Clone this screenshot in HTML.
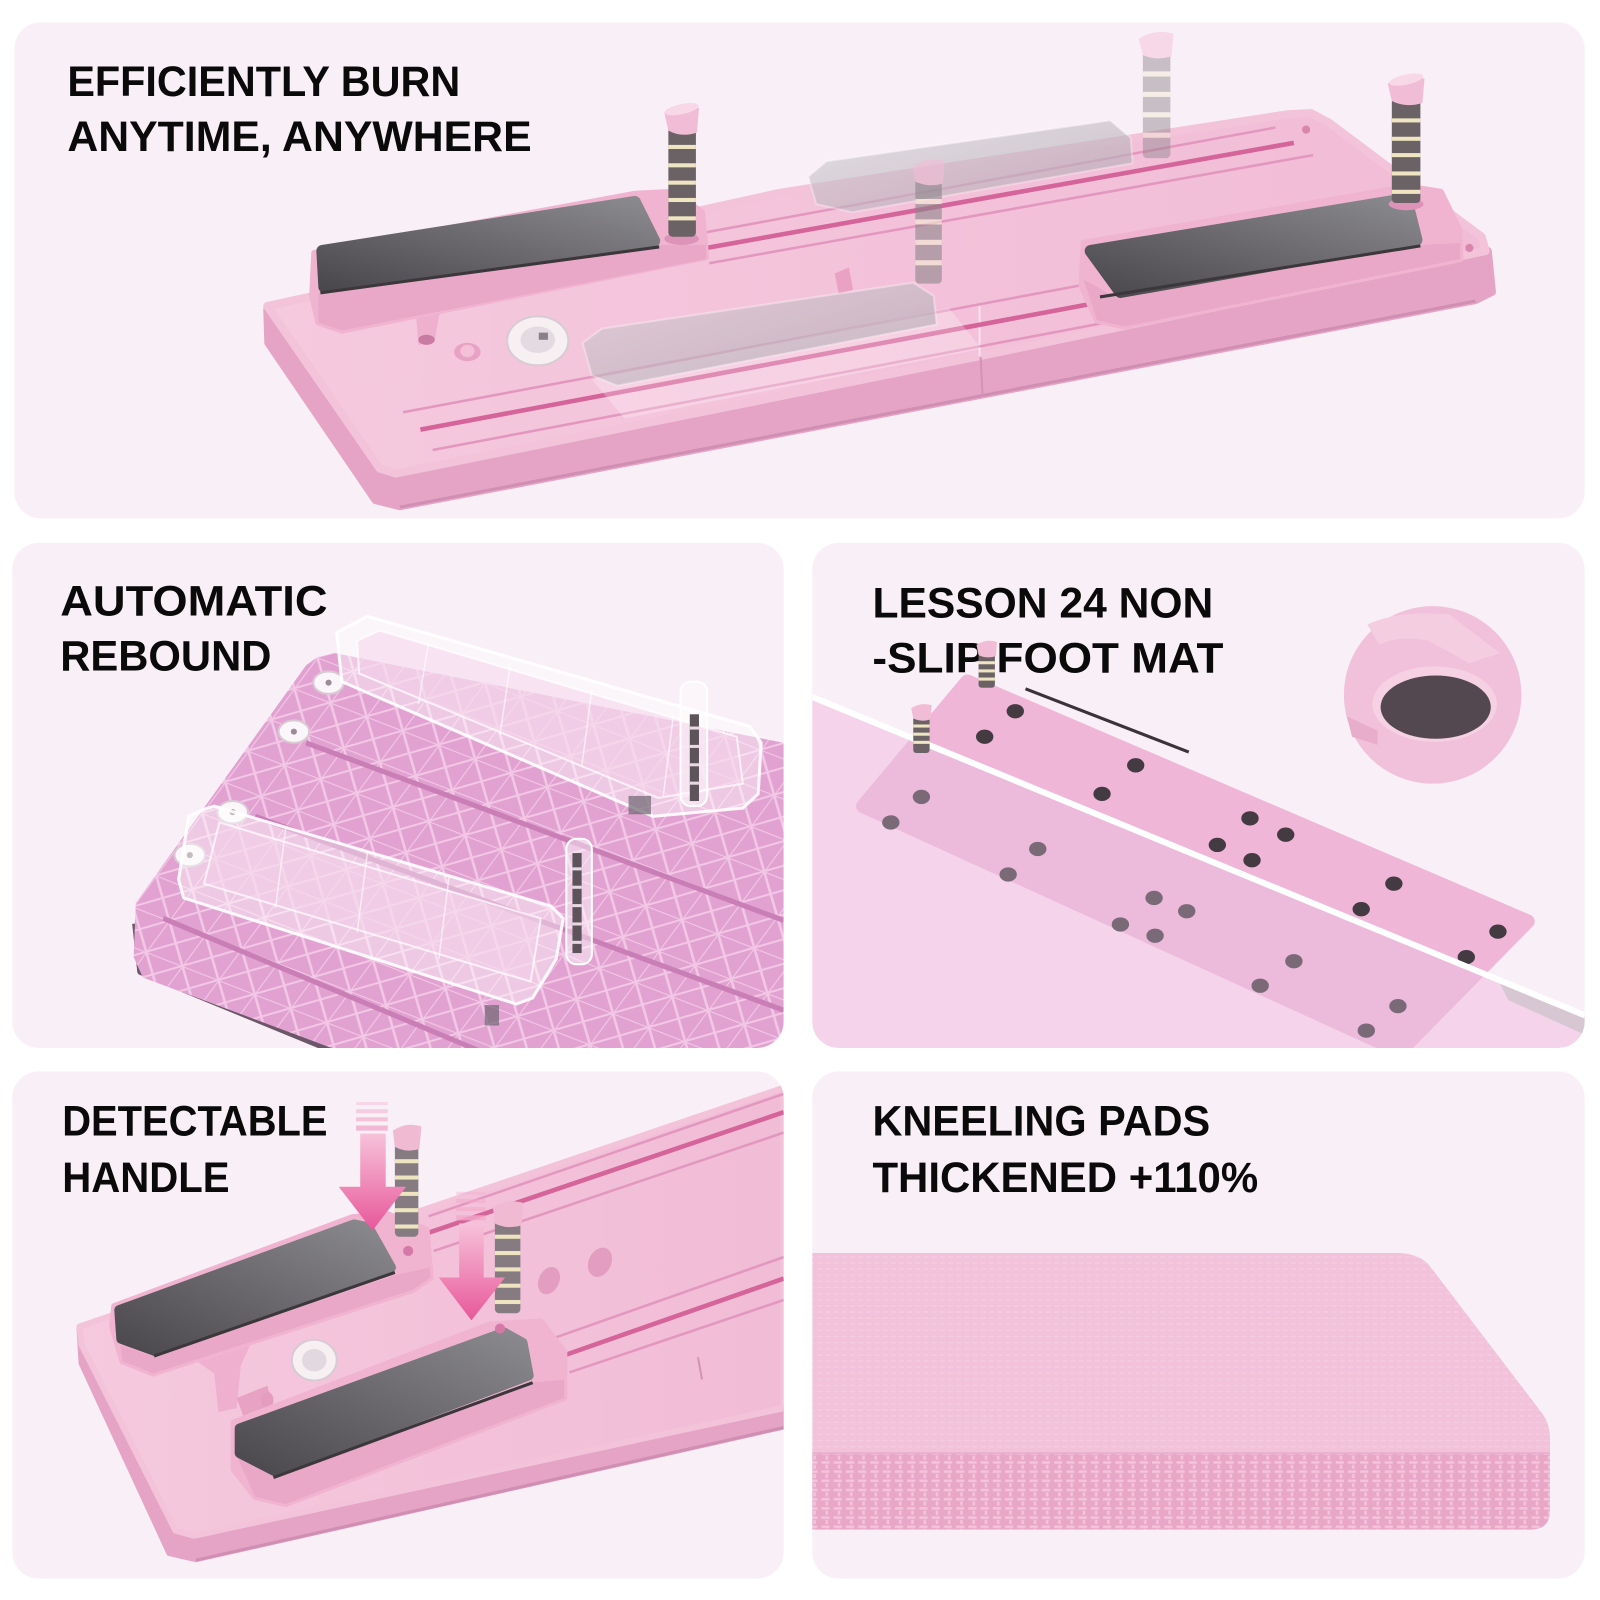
<!DOCTYPE html>
<html><head><meta charset="utf-8"><title>Foot mat features</title>
<style>
html,body{margin:0;padding:0;background:#fff;width:1600px;height:1600px;overflow:hidden}
svg{display:block}
.t{font-family:"Liberation Sans",Arial,sans-serif;font-weight:700;font-size:42px;fill:#0a0a0a}
</style></head><body>
<svg width="1600" height="1600" viewBox="0 0 1600 1600" xmlns="http://www.w3.org/2000/svg">
<defs>
<clipPath id="c1"><rect x="14" y="22" width="1539" height="486" rx="26"/></clipPath>
<clipPath id="c2"><rect x="12" y="532" width="756" height="495" rx="26"/></clipPath>
<clipPath id="c3"><rect x="796" y="532" width="757" height="495" rx="26"/></clipPath>
<clipPath id="c4"><rect x="12" y="1050" width="756" height="497" rx="26"/></clipPath>
<clipPath id="c5"><rect x="796" y="1050" width="757" height="497" rx="26"/></clipPath>
<clipPath id="up"><polygon points="796,532 1553,532 1553,995 796,683"/></clipPath>
<clipPath id="lo"><polygon points="796,683 1553,995 1553,1030 796,1030"/></clipPath>
<clipPath id="gb"><polygon points="311,644 328,640 768,728 768,1027 325,1027 140,958 131,938 133,885 300,652"/></clipPath>
<linearGradient id="pd" x1="0" y1="1" x2="1" y2="0"><stop offset="0" stop-color="#4b484d"/><stop offset="1" stop-color="#8b8a8e"/></linearGradient>
<linearGradient id="bt" x1="0" y1="0" x2="1" y2="0"><stop offset="0" stop-color="#f5c9de"/><stop offset="1" stop-color="#f1bcd6"/></linearGradient>
<linearGradient id="ar" x1="0" y1="0" x2="0" y2="1"><stop offset="0" stop-color="#f7c2da"/><stop offset="1" stop-color="#e8579a"/></linearGradient>
<linearGradient id="gh" x1="0" y1="0" x2="1" y2="1"><stop offset="0" stop-color="#d6d0d6"/><stop offset="1" stop-color="#a9a4ab"/></linearGradient>
<pattern id="weave" width="12" height="9" patternUnits="userSpaceOnUse">
<rect width="12" height="9" fill="#e9a7c8"/>
<rect x="1" y="1" width="8" height="2.5" fill="#f4c3dc"/>
<rect x="5" y="4.5" width="2.5" height="4" fill="#f4c3dc"/>
</pattern>
<pattern id="fine" width="8" height="6" patternUnits="userSpaceOnUse">
<rect width="8" height="6" fill="#f2c2da"/>
<rect x="1" y="1" width="5" height="1.5" fill="#f5cbdf"/>
</pattern>
<pattern id="grid" width="38" height="38" patternUnits="userSpaceOnUse" patternTransform="matrix(0.932,0.363,-0.594,0.804,311,644)">
<rect width="38" height="38" fill="#e2a2d1"/>
<path d="M0,0 H38 M0,0 V38 M0,0 L38,38 M38,0 L0,38" stroke="#f2c8e6" stroke-width="2.2"/>
</pattern>
</defs>
<rect width="1600" height="1600" fill="#fff"/>
<g transform="scale(1.0204)">
<!-- panels -->
<rect x="14" y="22" width="1539" height="486" rx="26" fill="#f9eff7"/>
<rect x="12" y="532" width="756" height="495" rx="26" fill="#f9eff7"/>
<rect x="796" y="532" width="757" height="495" rx="26" fill="#f9eff7"/>
<rect x="12" y="1050" width="756" height="497" rx="26" fill="#f9eff7"/>
<rect x="796" y="1050" width="757" height="497" rx="26" fill="#f9eff7"/>

<!-- ===== TOP PANEL ===== -->
<g clip-path="url(#c1)">
<path d="M262,303 L372,462 L1458,246 L1462,286 L1446,294 L392,496 L368,490 L263,336 Z" fill="#e5a4c5" stroke="#e5a4c5" stroke-width="8" stroke-linejoin="round"/>
<path d="M262,300 L764,189 L1262,112 L1285,111 L1302,120 L1452,232 L1456,246 L960,349 L388,464 L372,459 Z" fill="url(#bt)" stroke="#f3c3da" stroke-width="8" stroke-linejoin="round"/>
<line x1="392" y1="497" x2="1446" y2="295" stroke="#d08fb2" stroke-width="3"/>
<line x1="960" y1="300" x2="960" y2="349" stroke="#fbe1ee" stroke-width="2"/>
<line x1="961" y1="350" x2="963" y2="389" stroke="#d393b5" stroke-width="2"/>
<!-- grooves -->
<line x1="690" y1="228" x2="1250" y2="125" stroke="#e397be" stroke-width="2.5"/>
<line x1="692" y1="243" x2="1268" y2="140" stroke="#d4649a" stroke-width="4.5"/>
<line x1="695" y1="258" x2="1287" y2="152" stroke="#e397be" stroke-width="2.5"/>
<line x1="395" y1="404" x2="1100" y2="272" stroke="#e397be" stroke-width="2.5"/>
<line x1="412" y1="421" x2="1100" y2="292" stroke="#d4649a" stroke-width="4.5"/>
<line x1="424" y1="441" x2="1100" y2="313" stroke="#e397be" stroke-width="2.5"/>
<circle cx="1280" cy="127" r="4" fill="#d985ad"/>
<circle cx="1440" cy="243" r="4" fill="#d985ad"/>
<!-- small parts -->
<path d="M395,298 L442,290 L430,310 L426,335 L410,338 L408,312 Z" fill="#efb0cf"/>
<ellipse cx="418" cy="333" rx="8" ry="5" fill="#c97ca2"/>
<ellipse cx="458" cy="345" rx="13" ry="9" fill="#e8a2c4"/>
<ellipse cx="458" cy="344" rx="7" ry="6" fill="#f3c0d8"/>
<path d="M818,268 L832,262 L836,284 L822,288 Z" fill="#e9a2c4"/>
<ellipse cx="527" cy="334" rx="30" ry="24" fill="#f6f0f3" stroke="#d8cbd3" stroke-width="2"/>
<ellipse cx="527" cy="333" rx="17" ry="13" fill="#e4dae1"/>
<rect x="528" y="326" width="9" height="7" fill="#8a8088"/>
<!-- ghost lower holder -->
<path d="M580,372 L612,410 L962,342 L930,302 Z" fill="#fff" opacity="0.25"/>
<!-- left holder + pad -->
<path d="M308,248 L622,190 L660,188 L688,208 L692,252 L335,324 L312,316 L306,290 Z" fill="#f0b4d1" stroke="#f0b4d1" stroke-width="6" stroke-linejoin="round"/>
<path d="M312,287 L645,240 L692,240 L692,254 L335,324 L312,316 Z" fill="#eaa8c9"/>
<path d="M316,246 L622,198 L641,236 L318,281 Z" fill="url(#pd)" stroke="url(#pd)" stroke-width="12" stroke-linejoin="round"/>
<line x1="314" y1="287" x2="646" y2="242" stroke="#3b373b" stroke-width="3"/>
<!-- left handle -->
<ellipse cx="668" cy="234" rx="17" ry="6" fill="#dc93b7"/>
<rect x="655" y="118" width="27" height="114" rx="4" fill="#6b6266"/>
<g fill="#efe5c2"><rect x="655" y="142" width="27" height="4"/><rect x="655" y="160" width="27" height="4"/><rect x="655" y="177" width="27" height="4"/><rect x="655" y="194" width="27" height="4"/><rect x="655" y="212" width="27" height="4"/></g>
<path d="M651,110 Q666,101 685,106 L683,130 Q668,135 655,128 Z" fill="#f1bcd5"/>
<ellipse cx="668" cy="107" rx="17" ry="5" fill="#f8d7e6" transform="rotate(-12 668 107)"/>
<!-- ghost upper pad -->
<path d="M792,173 L810,158 L1088,118 L1108,135 L1110,160 L835,208 L800,200 Z" fill="url(#gh)" opacity="0.6" stroke="#fff" stroke-opacity="0.5" stroke-width="2"/>
<!-- ghost handles -->
<g opacity="0.45">
<rect x="1120" y="45" width="27" height="110" rx="4" fill="#8d868b"/>
<g fill="#f3ecd3"><rect x="1120" y="70" width="27" height="5"/><rect x="1120" y="90" width="27" height="5"/><rect x="1120" y="110" width="27" height="5"/><rect x="1120" y="130" width="27" height="5"/></g>
<path d="M1116,38 Q1132,28 1150,33 L1148,55 Q1133,60 1120,54 Z" fill="#f1bcd5"/>
</g>
<g opacity="0.6">
<rect x="897" y="170" width="26" height="108" rx="4" fill="#8d868b"/>
<g fill="#f3ecd3"><rect x="897" y="195" width="26" height="5"/><rect x="897" y="215" width="26" height="5"/><rect x="897" y="235" width="26" height="5"/><rect x="897" y="255" width="26" height="5"/></g>
<path d="M894,163 Q909,153 926,158 L924,180 Q910,184 897,178 Z" fill="#f1bcd5"/>
</g>
<!-- ghost lower pad -->
<path d="M571,336 L590,322 L895,277 L915,290 L918,318 L605,378 L580,368 Z" fill="url(#gh)" opacity="0.62" stroke="#fff" stroke-opacity="0.5" stroke-width="2"/>
<!-- right holder + pad -->
<path d="M1062,238 L1380,183 L1412,188 L1430,225 L1431,254 L1102,320 L1075,314 L1060,280 Z" fill="#f0b4d1" stroke="#f0b4d1" stroke-width="6" stroke-linejoin="round"/>
<path d="M1062,274 L1095,292 L1395,240 L1431,238 L1431,254 L1102,320 L1075,314 Z" fill="#eaa8c9"/>
<path d="M1069,246 L1378,195 L1388,235 L1098,286 Z" fill="url(#pd)" stroke="url(#pd)" stroke-width="12" stroke-linejoin="round"/>
<line x1="1078" y1="291" x2="1392" y2="241" stroke="#3b373b" stroke-width="3"/>
<!-- right handle -->
<ellipse cx="1378" cy="200" rx="17" ry="6" fill="#dc93b7"/>
<rect x="1364" y="96" width="28" height="103" rx="4" fill="#6b6266"/>
<g fill="#efe5c2"><rect x="1364" y="116" width="28" height="4"/><rect x="1364" y="134" width="28" height="4"/><rect x="1364" y="150" width="28" height="4"/><rect x="1364" y="168" width="28" height="4"/><rect x="1364" y="186" width="28" height="4"/></g>
<path d="M1360,82 Q1376,72 1396,77 L1394,101 Q1378,106 1364,99 Z" fill="#f1bcd5"/>
<ellipse cx="1378" cy="78" rx="17" ry="5" fill="#f8d7e6" transform="rotate(-12 1378 78)"/>
</g>
<text class="t" x="66" y="94" textLength="385" lengthAdjust="spacingAndGlyphs">EFFICIENTLY BURN</text>
<text class="t" x="66" y="148" textLength="455" lengthAdjust="spacingAndGlyphs">ANYTIME, ANYWHERE</text>

<!-- ===== MIDDLE LEFT ===== -->
<g clip-path="url(#c2)">
<polyline points="133,905 138,952 328,1030" fill="none" stroke="#6a5767" stroke-width="7" stroke-linejoin="round"/>
<polygon points="311,644 328,640 768,728 768,1027 325,1027 140,958 131,938 133,885 300,652" fill="url(#grid)"/>
<g clip-path="url(#gb)" stroke="#c97fb6" stroke-width="5">
<line x1="300" y1="728" x2="768" y2="902"/>
<line x1="250" y1="800" x2="768" y2="990"/>
<line x1="160" y1="900" x2="470" y2="1030"/>
</g>
<!-- knobs -->
<g fill="#fbf6f9" stroke="#d9c9d3" stroke-width="2">
<ellipse cx="322" cy="669" rx="15" ry="11"/><ellipse cx="288" cy="717" rx="15" ry="11"/>
<ellipse cx="228" cy="796" rx="15" ry="11"/><ellipse cx="186" cy="838" rx="15" ry="11"/>
</g>
<g fill="#9b8c96"><circle cx="322" cy="669" r="3"/><circle cx="288" cy="717" r="3"/><circle cx="228" cy="796" r="3"/><circle cx="186" cy="838" r="3"/></g>
<!-- clear pad A -->
<path d="M330,620 L360,604 L735,712 L746,728 L743,778 L728,792 L640,800 L335,668 Z" fill="#fff" fill-opacity="0.42" stroke="#fff" stroke-opacity="0.9" stroke-width="3" stroke-linejoin="round"/>
<path d="M350,628 L372,618 L722,722 L728,768 L645,782 L352,660 Z" fill="#f3cfe8" fill-opacity="0.5" stroke="#fff" stroke-opacity="0.7" stroke-width="2"/>
<g stroke="#fff" stroke-opacity="0.6" stroke-width="1.5">
<line x1="420" y1="630" x2="410" y2="690"/><line x1="500" y1="652" x2="490" y2="720"/><line x1="580" y1="676" x2="570" y2="752"/><line x1="660" y1="700" x2="650" y2="780"/>
</g>
<!-- clear pad B -->
<path d="M200,793 L210,790 L540,888 L552,900 L545,940 L522,978 L506,984 L180,880 L175,862 L185,800 Z" fill="#fff" fill-opacity="0.42" stroke="#fff" stroke-opacity="0.9" stroke-width="3" stroke-linejoin="round"/>
<path d="M215,806 L530,900 L520,962 L200,866 Z" fill="#f3cfe8" fill-opacity="0.5" stroke="#fff" stroke-opacity="0.7" stroke-width="2"/>
<g stroke="#fff" stroke-opacity="0.6" stroke-width="1.5">
<line x1="280" y1="812" x2="270" y2="890"/><line x1="360" y1="836" x2="350" y2="914"/><line x1="440" y1="860" x2="430" y2="940"/>
</g>
<!-- handles -->
<rect x="667" y="668" width="26" height="122" rx="10" fill="#fff" fill-opacity="0.45" stroke="#fff" stroke-width="2"/>
<rect x="676" y="700" width="9" height="85" fill="#5d545a"/>
<g fill="#e9d9e2"><rect x="676" y="712" width="9" height="3"/><rect x="676" y="730" width="9" height="3"/><rect x="676" y="748" width="9" height="3"/><rect x="676" y="766" width="9" height="3"/></g>
<rect x="555" y="822" width="25" height="123" rx="10" fill="#fff" fill-opacity="0.45" stroke="#fff" stroke-width="2"/>
<rect x="561" y="836" width="9" height="98" fill="#5d545a"/>
<g fill="#e9d9e2"><rect x="561" y="850" width="9" height="3"/><rect x="561" y="868" width="9" height="3"/><rect x="561" y="886" width="9" height="3"/><rect x="561" y="904" width="9" height="3"/><rect x="561" y="922" width="9" height="3"/></g>
<rect x="616" y="780" width="22" height="18" fill="#6e6570" opacity="0.7"/>
<rect x="475" y="985" width="14" height="20" fill="#6e6570" opacity="0.7"/>
</g>
<text class="t" x="59" y="603" textLength="262" lengthAdjust="spacingAndGlyphs">AUTOMATIC</text>
<text class="t" x="59" y="657" textLength="207" lengthAdjust="spacingAndGlyphs">REBOUND</text>

<!-- ===== MIDDLE RIGHT ===== -->
<g clip-path="url(#c3)">
<polygon points="796,683 1553,995 1553,1030 796,1030" fill="#f5d4eb"/>
<g clip-path="url(#up)">
<path d="M948,668 L1497,903 L1372,1030 L846,790 Z" fill="#efb6d7" stroke="#efb6d7" stroke-width="14" stroke-linejoin="round"/>
<line x1="1005" y1="675" x2="1165" y2="737" stroke="#3b3339" stroke-width="3"/>
<g fill="#443a42">
<ellipse cx="995" cy="697" rx="8.5" ry="7"/><ellipse cx="965" cy="722" rx="8.5" ry="7"/>
<ellipse cx="1113" cy="750" rx="8.5" ry="7"/><ellipse cx="1080" cy="778" rx="8.5" ry="7"/>
<ellipse cx="1225" cy="802" rx="8.5" ry="7"/><ellipse cx="1193" cy="828" rx="8.5" ry="7"/>
<ellipse cx="1260" cy="818" rx="8.5" ry="7"/><ellipse cx="1227" cy="843" rx="8.5" ry="7"/>
<ellipse cx="1366" cy="866" rx="8.5" ry="7"/><ellipse cx="1334" cy="891" rx="8.5" ry="7"/>
<ellipse cx="1468" cy="913" rx="8.5" ry="7"/><ellipse cx="1437" cy="938" rx="8.5" ry="7"/>
</g>
</g>
<g clip-path="url(#lo)">
<path d="M948,668 L1497,903 L1372,1030 L846,790 Z" fill="#ecbadb" stroke="#ecbadb" stroke-width="14" stroke-linejoin="round"/>
<g fill="#7a6977">
<ellipse cx="903" cy="781" rx="8.5" ry="7"/><ellipse cx="873" cy="806" rx="8.5" ry="7"/>
<ellipse cx="1017" cy="832" rx="8.5" ry="7"/><ellipse cx="988" cy="857" rx="8.5" ry="7"/>
<ellipse cx="1131" cy="880" rx="8.5" ry="7"/><ellipse cx="1098" cy="906" rx="8.5" ry="7"/>
<ellipse cx="1163" cy="893" rx="8.5" ry="7"/><ellipse cx="1132" cy="917" rx="8.5" ry="7"/>
<ellipse cx="1268" cy="942" rx="8.5" ry="7"/><ellipse cx="1235" cy="966" rx="8.5" ry="7"/>
<ellipse cx="1370" cy="986" rx="8.5" ry="7"/><ellipse cx="1339" cy="1010" rx="8.5" ry="7"/>
</g>
</g>
<polygon points="1470,964 1553,998 1553,1014 1478,980" fill="#cbc2c8" opacity="0.7"/>
<line x1="796" y1="683" x2="1553" y2="995" stroke="#fff" stroke-width="6"/>
<!-- inset circle -->
<circle cx="1404" cy="681" r="87" fill="#f1c0da"/>
<path d="M1340,612 Q1370,598 1420,602 L1470,640 L1440,650 L1400,628 Q1370,622 1352,632 Z" fill="#f5cde1"/>
<path d="M1320,702 L1350,716 L1350,730 L1325,722 Z" fill="#e8adcb"/>
<ellipse cx="1406" cy="690" rx="61" ry="37" fill="#f6d1e3"/>
<ellipse cx="1407" cy="693" rx="54" ry="31" fill="#544850"/>
</g>
<text class="t" x="855" y="605" textLength="334" lengthAdjust="spacingAndGlyphs">LESSON 24 NON</text>
<text class="t" x="855" y="659" textLength="344" lengthAdjust="spacingAndGlyphs">-SLIP FOOT MAT</text>
<g clip-path="url(#c3)">
<rect x="959" y="640" width="16" height="34" rx="3" fill="#6b6266"/>
<g fill="#efe5c2"><rect x="959" y="648" width="16" height="3"/><rect x="959" y="656" width="16" height="3"/><rect x="959" y="664" width="16" height="3"/></g>
<path d="M957,632 Q966,626 977,629 L976,643 Q967,646 959,642 Z" fill="#f1bcd5"/>
<rect x="895" y="702" width="16" height="36" rx="3" fill="#6b6266"/>
<g fill="#efe5c2"><rect x="895" y="710" width="16" height="3"/><rect x="895" y="718" width="16" height="3"/><rect x="895" y="726" width="16" height="3"/></g>
<path d="M893,694 Q902,688 913,691 L912,705 Q903,708 895,704 Z" fill="#f1bcd5"/>
</g>

<!-- ===== BOTTOM LEFT ===== -->
<g clip-path="url(#c4)">
<path d="M78,1302 L80,1336 L166,1522 L192,1528 L768,1398 L768,1380 L190,1505 L172,1500 Z" fill="#e5a4c5" stroke="#e5a4c5" stroke-width="6" stroke-linejoin="round"/>
<path d="M78,1300 L768,1066 L768,1380 L190,1505 L172,1500 L80,1318 Z" fill="url(#bt)" stroke="#f3c3da" stroke-width="6" stroke-linejoin="round"/>
<line x1="192" y1="1529" x2="768" y2="1399" stroke="#d08fb2" stroke-width="3"/>
<line x1="684" y1="1330" x2="688" y2="1352" stroke="#d393b5" stroke-width="2"/>
<line x1="420" y1="1192" x2="768" y2="1072" stroke="#e397be" stroke-width="2.5"/>
<line x1="420" y1="1208" x2="768" y2="1090" stroke="#d4649a" stroke-width="4.5"/>
<line x1="425" y1="1226" x2="768" y2="1110" stroke="#e397be" stroke-width="2.5"/>
<line x1="538" y1="1313" x2="768" y2="1232" stroke="#e397be" stroke-width="2.5"/>
<line x1="548" y1="1330" x2="768" y2="1253" stroke="#d4649a" stroke-width="4.5"/>
<line x1="558" y1="1345" x2="768" y2="1274" stroke="#e397be" stroke-width="2.5"/>
<ellipse cx="538" cy="1255" rx="10" ry="14" fill="#e39dc0" transform="rotate(25 538 1255)"/>
<ellipse cx="588" cy="1237" rx="11" ry="15" fill="#e39dc0" transform="rotate(25 588 1237)"/>
<!-- hinge -->
<path d="M190,1332 L248,1312 L236,1338 L232,1380 L214,1384 L210,1346 Z" fill="#efb0cf"/>
<path d="M232,1370 L262,1358 L268,1380 L240,1392 Z" fill="#e7a2c4"/>
<ellipse cx="262" cy="1372" rx="6" ry="8" fill="#e49cc0"/>
<!-- LCD -->
<ellipse cx="308" cy="1333" rx="22" ry="20" fill="#f6f0f3" stroke="#d8cbd3" stroke-width="2"/>
<ellipse cx="308" cy="1333" rx="12" ry="11" fill="#e2d8df"/>
<!-- holder1 + pad1 -->
<path d="M112,1280 L345,1193 L380,1190 L418,1205 L422,1252 L405,1264 L150,1346 L120,1334 L110,1300 Z" fill="#f0b4d1" stroke="#f0b4d1" stroke-width="6" stroke-linejoin="round"/>
<path d="M118,1318 L152,1330 L386,1250 L421,1242 L422,1252 L405,1264 L150,1346 L120,1334 Z" fill="#eaa8c9"/>
<path d="M117,1284 L347,1200 L361,1203 L383,1242 L152,1324 L119,1312 Z" fill="url(#pd)" stroke="url(#pd)" stroke-width="10" stroke-linejoin="round"/>
<line x1="151" y1="1329" x2="387" y2="1247" stroke="#3b373b" stroke-width="3"/>
<circle cx="400" cy="1226" r="5" fill="#d57aa6"/>
<!-- handle1 -->
<rect x="387" y="1118" width="23" height="94" rx="4" fill="#857b81"/>
<g fill="#eee4bf"><rect x="387" y="1136" width="23" height="4"/><rect x="387" y="1152" width="23" height="4"/><rect x="387" y="1168" width="23" height="4"/><rect x="387" y="1184" width="23" height="4"/><rect x="387" y="1200" width="23" height="4"/></g>
<path d="M385,1108 Q398,1099 413,1104 L411,1126 Q398,1130 387,1124 Z" fill="#f0bad3"/>
<!-- holder2 + pad2 -->
<path d="M229,1394 L480,1298 L530,1295 L553,1325 L553,1370 L280,1474 L250,1467 L229,1440 Z" fill="#f0b4d1" stroke="#f0b4d1" stroke-width="6" stroke-linejoin="round"/>
<path d="M232,1427 L270,1448 L520,1355 L553,1352 L553,1370 L280,1474 L250,1467 Z" fill="#eaa8c9"/>
<path d="M235,1400 L494,1306 L512,1316 L518,1348 L270,1442 L235,1424 Z" fill="url(#pd)" stroke="url(#pd)" stroke-width="10" stroke-linejoin="round"/>
<line x1="268" y1="1448" x2="522" y2="1355" stroke="#3b373b" stroke-width="3"/>
<circle cx="490" cy="1302" r="5" fill="#d57aa6"/>
<!-- handle2 -->
<rect x="485" y="1193" width="25" height="94" rx="4" fill="#857b81"/>
<g fill="#eee4bf"><rect x="485" y="1210" width="25" height="4"/><rect x="485" y="1226" width="25" height="4"/><rect x="485" y="1242" width="25" height="4"/><rect x="485" y="1258" width="25" height="4"/><rect x="485" y="1274" width="25" height="4"/></g>
<path d="M483,1183 Q497,1174 513,1179 L511,1201 Q497,1205 485,1199 Z" fill="#f0bad3"/>
<!-- arrows -->
<g fill="#f2a9cb">
<rect x="349" y="1080" width="31" height="3" opacity="0.35"/><rect x="349" y="1087" width="31" height="4" opacity="0.5"/><rect x="349" y="1095" width="31" height="4" opacity="0.65"/><rect x="349" y="1103" width="31" height="5" opacity="0.8"/>
<rect x="447" y="1168" width="29" height="3" opacity="0.35"/><rect x="447" y="1175" width="29" height="4" opacity="0.5"/><rect x="447" y="1183" width="29" height="4" opacity="0.65"/><rect x="447" y="1191" width="29" height="5" opacity="0.8"/>
</g>
<path d="M353,1111 L378,1111 L378,1163 L398,1163 L365,1206 L332,1163 L353,1163 Z" fill="url(#ar)"/>
<path d="M450,1199 L474,1199 L474,1252 L495,1252 L462,1294 L430,1252 L450,1252 Z" fill="url(#ar)"/>
</g>
<text class="t" x="61" y="1113" textLength="260" lengthAdjust="spacingAndGlyphs">DETECTABLE</text>
<text class="t" x="61" y="1168" textLength="164" lengthAdjust="spacingAndGlyphs">HANDLE</text>

<!-- ===== BOTTOM RIGHT ===== -->
<g clip-path="url(#c5)">
<path d="M796,1424 L1519,1424 L1519,1480 Q1519,1499 1500,1499 L796,1499 Z" fill="url(#weave)"/>
<path d="M796,1228 L1372,1228 Q1393,1229 1403,1243 L1512,1386 Q1519,1396 1519,1410 L1519,1424 L796,1424 Z" fill="url(#fine)"/>
<line x1="796" y1="1424" x2="1519" y2="1424" stroke="#e7aecb" stroke-width="1.5"/>
</g>
<text class="t" x="855" y="1113" textLength="331" lengthAdjust="spacingAndGlyphs">KNEELING PADS</text>
<text class="t" x="855" y="1168" textLength="378" lengthAdjust="spacingAndGlyphs">THICKENED +110%</text>
</g>
</svg>
</body></html>
